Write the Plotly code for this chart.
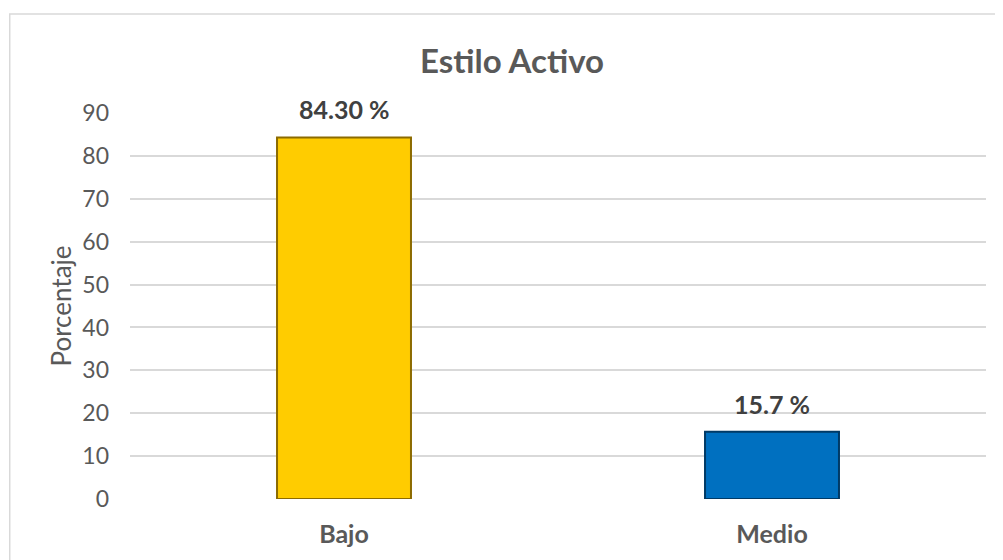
import plotly.graph_objects as go

# Datos del gráfico
categorias = ["Bajo", "Medio"]
porcentajes = [84.3, 15.7]
etiquetas = ["84.30 %", "15.7 %"]
colores = ["#FFCC00", "#0070C0"]
bordes = ["#8C6B00", "#003A66"]
ticks_y = [0, 10, 20, 30, 40, 50, 60, 70, 80, 90]

FUENTE = "Lato"

fig = go.Figure()

fig.add_trace(go.Bar(
    x=categorias,
    y=porcentajes,
    width=0.313,
    marker=dict(color=colores, line=dict(color=bordes, width=2)),
    hoverinfo="x+y",
    showlegend=False
))

# Etiquetas de datos sobre cada barra
for cat, val, txt in zip(categorias, porcentajes, etiquetas):
    fig.add_annotation(
        x=cat, y=val, text=f"<b>{txt}</b>",
        showarrow=False, yanchor="bottom", yshift=11,
        font=dict(family=FUENTE, size=25, color="#404040")
    )

# Marco del área del gráfico
fig.add_shape(
    type="rect", xref="paper", yref="paper",
    x0=-0.1405, x1=1.05, y0=-0.3, y1=1.2565,
    line=dict(color="#D9D9D9", width=1.5), layer="below"
)

# la página tiene 8 px de margen en el body, se compensa en los márgenes
fig.update_layout(
    width=1003,
    height=560,
    margin=dict(l=122, r=25, t=105, b=69),
    paper_bgcolor="white",
    plot_bgcolor="white",
    title=dict(
        text="<b>Estilo Activo</b>",
        x=504 / 1003, xanchor="center", xref="container",
        y=1 - 53 / 560, yanchor="middle", yref="container",
        font=dict(family=FUENTE, size=33, color="#595959")
    ),
    xaxis=dict(
        tickmode="array",
        tickvals=categorias,
        ticktext=[f"<b>{c}</b>" for c in categorias],
        tickfont=dict(family=FUENTE, size=25, color="#595959"),
        showline=False, showgrid=False, zeroline=False,
        ticks="", ticklabelstandoff=18
    ),
    yaxis=dict(
        range=[0, 90],
        tickvals=ticks_y,
        tickfont=dict(family=FUENTE, size=23, color="#595959"),
        gridcolor="#D9D9D9", gridwidth=1.5,
        zeroline=False, showline=False,
        ticks="", ticklabelstandoff=20,
        title=dict(text="Porcentaje", standoff=3,
                   font=dict(family=FUENTE, size=26, color="#595959"))
    ),
    bargap=0.687
)

fig.write_html("out.html")
